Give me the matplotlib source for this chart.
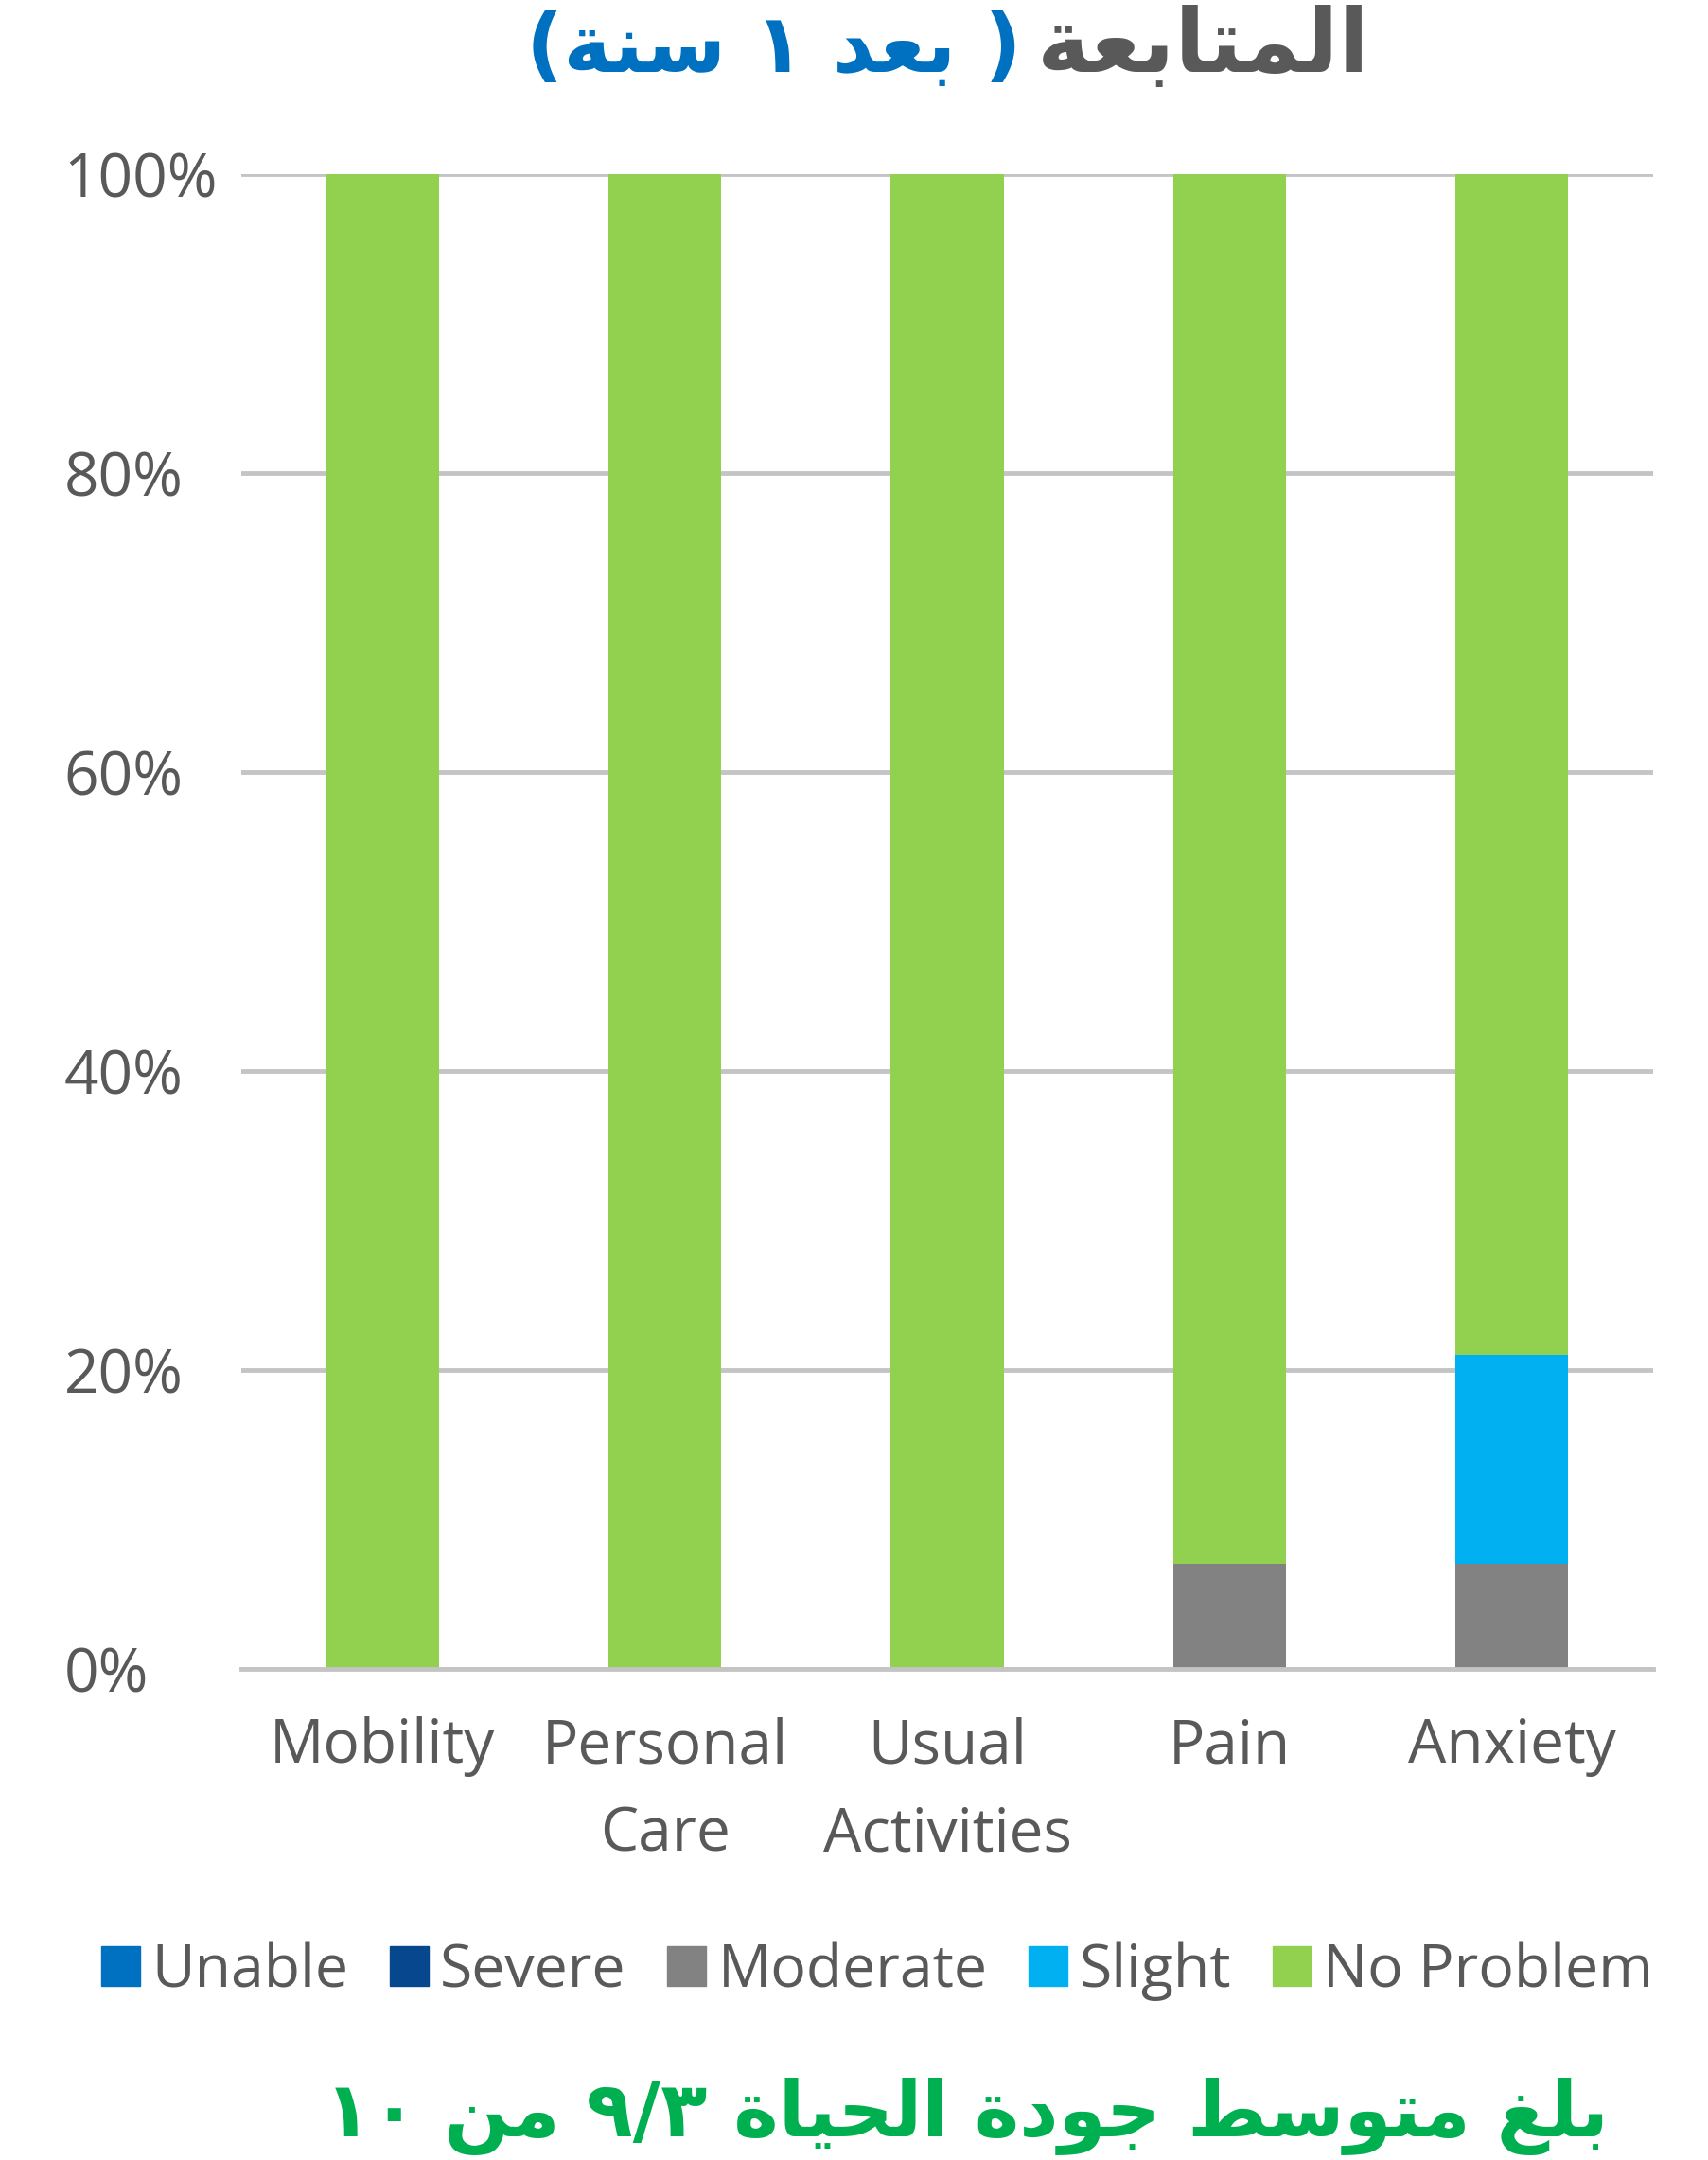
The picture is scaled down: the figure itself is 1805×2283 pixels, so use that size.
import re
import matplotlib
matplotlib.use("Agg")
import matplotlib.pyplot as plt
from matplotlib.patches import Patch
import numpy as np

categories = ["Mobility", "Personal\nCare", "Usual\nActivities", "Pain", "Anxiety"]
levels = ["Unable", "Severe", "Moderate", "Slight", "No Problem"]
unable = [0, 0, 0, 0, 0]
severe = [0, 0, 0, 0, 0]
moderate = [0, 0, 0, 7, 7]
slight = [0, 0, 0, 0, 14]
no_problem = [100, 100, 100, 93, 79]
colors = ["#0070C0", "#06478E", "#828282", "#00B0F0", "#92D050"]
ytick_vals = [0, 20, 40, 60, 80, 100]

title_gray = "المتابعة"
title_blue = "( بعد ١ سنة)"
footer = "بلغ متوسط جودة الحياة ٩/٣ من ١٠"

# tiny arabic shaper: contextual forms + visual order
FORMS = {
    'ا': (0xFE8D, 0xFE8E), 'ب': (0xFE8F, 0xFE90, 0xFE91, 0xFE92),
    'ة': (0xFE93, 0xFE94), 'ت': (0xFE95, 0xFE96, 0xFE97, 0xFE98),
    'ج': (0xFE9D, 0xFE9E, 0xFE9F, 0xFEA0), 'ح': (0xFEA1, 0xFEA2, 0xFEA3, 0xFEA4),
    'د': (0xFEA9, 0xFEAA), 'س': (0xFEB1, 0xFEB2, 0xFEB3, 0xFEB4),
    'ط': (0xFEC1, 0xFEC2, 0xFEC3, 0xFEC4), 'ع': (0xFEC9, 0xFECA, 0xFECB, 0xFECC),
    'غ': (0xFECD, 0xFECE, 0xFECF, 0xFED0), 'ل': (0xFEDD, 0xFEDE, 0xFEDF, 0xFEE0),
    'م': (0xFEE1, 0xFEE2, 0xFEE3, 0xFEE4), 'ن': (0xFEE5, 0xFEE6, 0xFEE7, 0xFEE8),
    'و': (0xFEED, 0xFEEE), 'ي': (0xFEF1, 0xFEF2, 0xFEF3, 0xFEF4),
}


def ar(s):
    out = []
    for i, c in enumerate(s):
        f = FORMS.get(c)
        if f is None:
            out.append(c)
            continue
        prev = s[i - 1] if i > 0 else ''
        nxt = s[i + 1] if i + 1 < len(s) else ''
        jp = prev in FORMS and len(FORMS[prev]) == 4
        jn = len(f) == 4 and nxt in FORMS
        idx = 3 if (jp and jn) else 1 if jp else 2 if jn else 0
        out.append(chr(f[idx]))
    vis = ''.join(out)[::-1]
    vis = re.sub('[٠-٩][٠-٩٫/]*', lambda m: m.group(0)[::-1], vis)
    return vis.translate(str.maketrans('()', ')('))


plt.rcParams['font.family'] = ['Open Sans', 'DejaVu Sans']
W, H = 1805, 2283
fig = plt.figure(figsize=(W / 100, H / 100), dpi=100)
ax = fig.add_axes([255 / W, 519 / H, 1492 / W, 1580 / H])

x = np.arange(len(categories))
series = [unable, severe, moderate, slight, no_problem]
bottom = np.zeros(len(categories))
for name, vals, c in zip(levels, series, colors):
    v = np.array(vals) / 100
    ax.bar(x, v, 0.4, bottom=bottom, color=c, zorder=3)
    bottom += v

ax.set_xlim(-0.5, len(categories) - 0.5)
ax.set_ylim(0, 1)
ax.set_yticks(np.array(ytick_vals) / 100)
ax.set_yticklabels([f"{v}%" for v in ytick_vals])
ax.yaxis.grid(True, color="#c4c4c4", linewidth=3.5, zorder=0)
ax.set_axisbelow(True)
for s in ["left", "right", "top"]:
    ax.spines[s].set_visible(False)
ax.spines["bottom"].set_color("#c4c4c4")
ax.spines["bottom"].set_linewidth(3.5)
ax.spines["bottom"].set_zorder(4)

ax.set_xticks(x)
ax.set_xticklabels(categories, linespacing=1.6)
ax.tick_params(axis="x", length=0, pad=36, labelsize=46, labelcolor="#595959")
ax.tick_params(axis="y", length=0, pad=135, labelsize=46, labelcolor="#595959")
for lab in ax.get_yticklabels():
    lab.set_horizontalalignment("left")

handles = [Patch(color=c) for c in colors]
fig.legend(handles, levels, loc="center", bbox_to_anchor=(927 / W, 1 - 2084 / H),
           ncol=5, frameon=False, fontsize=45, labelcolor="#595959",
           handlelength=0.65, handleheight=0.65, handletextpad=0.2,
           columnspacing=0.7, borderpad=0)

fig.text(1448 / W, 1 - 76 / H, ar(title_gray), ha="right", va="baseline",
         fontsize=68, fontweight="bold", color="#595959", family=["DejaVu Sans"])
fig.text(1080 / W, 1 - 76 / H, ar(title_blue), ha="right", va="baseline",
         fontsize=62, fontweight="bold", color="#0070C0", family=["DejaVu Sans"])
fig.text(1021 / W, 1 - 2258 / H, ar(footer), ha="center", va="baseline",
         fontsize=58, fontweight="bold", color="#00B050", family=["DejaVu Sans"])

fig.savefig("out.png", dpi=100)
